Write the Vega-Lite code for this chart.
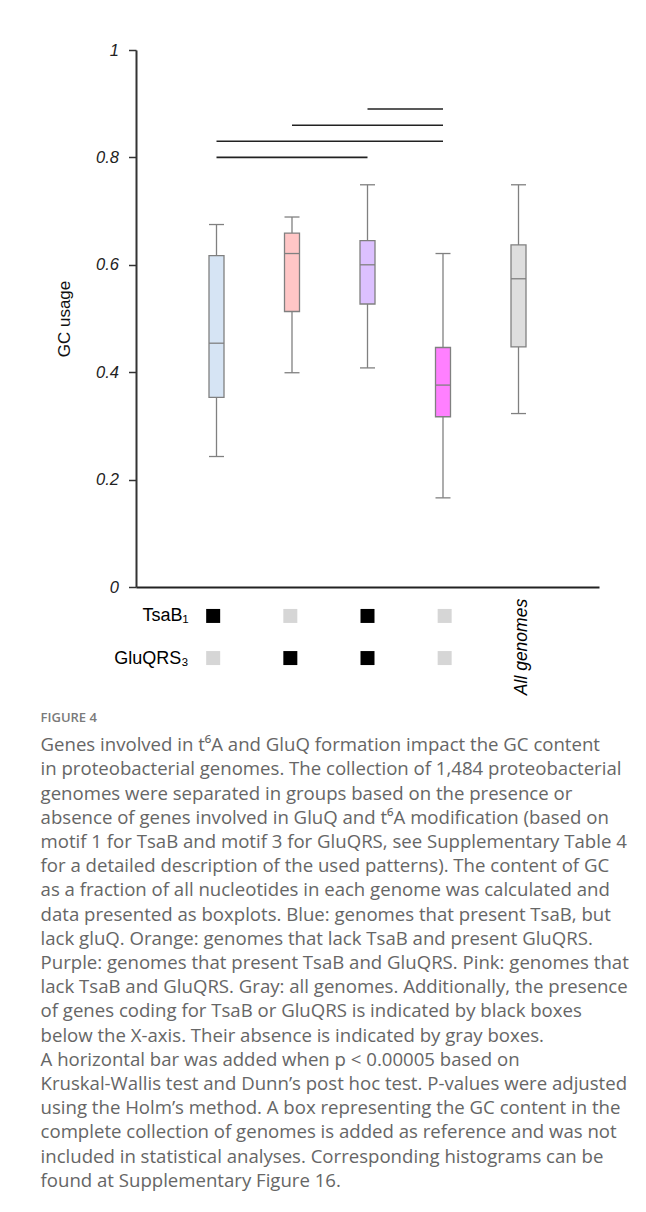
{
  "$schema": "https://vega.github.io/schema/vega-lite/v6.json",
  "padding": {"left": 40, "top": 42, "right": 0, "bottom": 0},
  "background": "#ffffff",
  "config": {"view": {"stroke": null}, "font": "Liberation Sans"},
  "datasets": {
    "boxes": [
      {"g": 1, "group": "TsaB only", "lo": 0.243, "q1": 0.353, "med": 0.454, "q3": 0.617, "hi": 0.675},
      {"g": 2, "group": "GluQRS only", "lo": 0.399, "q1": 0.513, "med": 0.621, "q3": 0.659, "hi": 0.689},
      {"g": 3, "group": "TsaB and GluQRS", "lo": 0.408, "q1": 0.527, "med": 0.600, "q3": 0.645, "hi": 0.749},
      {"g": 4, "group": "Neither", "lo": 0.166, "q1": 0.317, "med": 0.376, "q3": 0.446, "hi": 0.621},
      {"g": 5, "group": "All genomes", "lo": 0.323, "q1": 0.447, "med": 0.574, "q3": 0.637, "hi": 0.749}
    ],
    "sig": [
      {"from": 1, "to": 3, "y": 0.800},
      {"from": 1, "to": 4, "y": 0.830},
      {"from": 2, "to": 4, "y": 0.860},
      {"from": 3, "to": 4, "y": 0.890}
    ],
    "ind": [
      {"g": 1, "gene": "TsaB₁", "status": "present"},
      {"g": 2, "gene": "TsaB₁", "status": "absent"},
      {"g": 3, "gene": "TsaB₁", "status": "present"},
      {"g": 4, "gene": "TsaB₁", "status": "absent"},
      {"g": 1, "gene": "GluQRS₃", "status": "absent"},
      {"g": 2, "gene": "GluQRS₃", "status": "present"},
      {"g": 3, "gene": "GluQRS₃", "status": "present"},
      {"g": 4, "gene": "GluQRS₃", "status": "absent"}
    ],
    "allg": [{"g": 5, "label": "All genomes"}]
  },
  "title": {
    "text": "FIGURE 4",
    "subtitle": [
      "Genes involved in t⁶A and GluQ formation impact the GC content",
      "in proteobacterial genomes. The collection of 1,484 proteobacterial",
      "genomes were separated in groups based on the presence or",
      "absence of genes involved in GluQ and t⁶A modification (based on",
      "motif 1 for TsaB and motif 3 for GluQRS, see Supplementary Table 4",
      "for a detailed description of the used patterns). The content of GC",
      "as a fraction of all nucleotides in each genome was calculated and",
      "data presented as boxplots. Blue: genomes that present TsaB, but",
      "lack gluQ. Orange: genomes that lack TsaB and present GluQRS.",
      "Purple: genomes that present TsaB and GluQRS. Pink: genomes that",
      "lack TsaB and GluQRS. Gray: all genomes. Additionally, the presence",
      "of genes coding for TsaB or GluQRS is indicated by black boxes",
      "below the X-axis. Their absence is indicated by gray boxes.",
      "A horizontal bar was added when p < 0.00005 based on",
      "Kruskal-Wallis test and Dunn’s post hoc test. P-values were adjusted",
      "using the Holm’s method. A box representing the GC content in the",
      "complete collection of genomes is added as reference and was not",
      "included in statistical analyses. Corresponding histograms can be",
      "found at Supplementary Figure 16."
    ],
    "orient": "bottom",
    "anchor": "start",
    "frame": "bounds",
    "dx": -15,
    "offset": 17,
    "font": "Open Sans",
    "fontSize": 13,
    "fontWeight": 600,
    "color": "#7a7a7a",
    "subtitleFont": "Open Sans",
    "subtitleFontSize": 18.6,
    "subtitleColor": "#666666",
    "subtitleLineHeight": 24.2,
    "subtitlePadding": 11
  },
  "vconcat": [
    {
      "width": 463,
      "height": 537,
      "layer": [
        {
          "data": {"name": "boxes"},
          "mark": {"type": "rule", "color": "#808080", "strokeWidth": 1.3},
          "encoding": {
            "x": {"field": "g", "type": "quantitative", "title": null, "scale": {"domain": [0, 6], "nice": false, "zero": false},
                  "axis": {"title": null, "labels": false, "ticks": false, "grid": false, "domainColor": "#222222", "domainWidth": 2}},
            "y": {"field": "lo", "type": "quantitative", "title": "GC usage", "scale": {"domain": [0, 1], "nice": false},
                  "axis": {"title": "GC usage", "values": [0, 0.2, 0.4, 0.6, 0.8, 1], "format": "~g", "grid": false,
                           "labelFont": "Liberation Sans", "labelFontStyle": "italic", "labelFontSize": 16.5, "labelColor": "#222222",
                           "labelPadding": 10, "tickSize": 7.5, "tickColor": "#333333", "tickWidth": 1.5,
                           "domainColor": "#333333", "domainWidth": 2,
                           "titleFont": "Liberation Sans", "titleFontSize": 17, "titleFontWeight": "normal", "titleColor": "#111111", "titlePadding": 22}},
            "y2": {"field": "hi"}
          }
        },
        {
          "data": {"name": "boxes"},
          "mark": {"type": "bar", "width": 15, "stroke": "#808080", "strokeWidth": 1.3},
          "encoding": {
            "x": {"field": "g", "type": "quantitative", "title": null},
            "y": {"field": "q1", "type": "quantitative", "title": "GC usage"},
            "y2": {"field": "q3"},
            "fill": {"field": "group", "type": "nominal", "legend": null,
                     "scale": {"domain": ["TsaB only", "GluQRS only", "TsaB and GluQRS", "Neither", "All genomes"],
                               "range": ["#d6e4f4", "#ffc6c6", "#dcc0ff", "#ff80ff", "#dedede"]}}
          }
        },
        {
          "data": {"name": "boxes"},
          "mark": {"type": "tick", "orient": "horizontal", "size": 15, "thickness": 1.3, "color": "#808080", "opacity": 1},
          "encoding": {
            "x": {"field": "g", "type": "quantitative", "title": null},
            "y": {"field": "med", "type": "quantitative", "title": "GC usage"}
          }
        },
        {
          "data": {"name": "boxes"},
          "mark": {"type": "tick", "orient": "horizontal", "size": 15, "thickness": 1.3, "color": "#808080", "opacity": 1},
          "encoding": {
            "x": {"field": "g", "type": "quantitative", "title": null},
            "y": {"field": "lo", "type": "quantitative", "title": "GC usage"}
          }
        },
        {
          "data": {"name": "boxes"},
          "mark": {"type": "tick", "orient": "horizontal", "size": 15, "thickness": 1.3, "color": "#808080", "opacity": 1},
          "encoding": {
            "x": {"field": "g", "type": "quantitative", "title": null},
            "y": {"field": "hi", "type": "quantitative", "title": "GC usage"}
          }
        },
        {
          "data": {"name": "sig"},
          "mark": {"type": "rule", "color": "#222222", "strokeWidth": 1.6},
          "encoding": {
            "x": {"field": "from", "type": "quantitative", "title": null},
            "x2": {"field": "to"},
            "y": {"field": "y", "type": "quantitative", "title": "GC usage"}
          }
        }
      ]
    },
    {
      "width": 463,
      "height": 80,
      "layer": [
        {
          "data": {"name": "ind"},
          "mark": {"type": "square", "size": 196, "opacity": 1, "filled": true},
          "encoding": {
            "x": {"field": "g", "type": "quantitative", "scale": {"domain": [0, 6], "nice": false, "zero": false}, "axis": null},
            "y": {"field": "gene", "type": "nominal", "sort": ["TsaB₁", "GluQRS₃"], "scale": {"padding": 0.45},
                  "axis": {"title": null, "domain": false, "ticks": false, "labelFont": "Liberation Sans", "labelFontSize": 18,
                           "labelColor": "#000000", "labelPadding": 6, "offset": -58}},
            "color": {"field": "status", "type": "nominal", "legend": null,
                      "scale": {"domain": ["present", "absent"], "range": ["#000000", "#d6d6d6"]}}
          }
        },
        {
          "data": {"name": "allg"},
          "mark": {"type": "text", "angle": 270, "font": "Liberation Sans", "fontStyle": "italic", "fontSize": 17.5,
                   "color": "#000000", "align": "center", "baseline": "middle", "yOffset": 10},
          "encoding": {
            "x": {"field": "g", "type": "quantitative"},
            "text": {"field": "label"}
          }
        }
      ]
    }
  ],
  "spacing": 1
}
